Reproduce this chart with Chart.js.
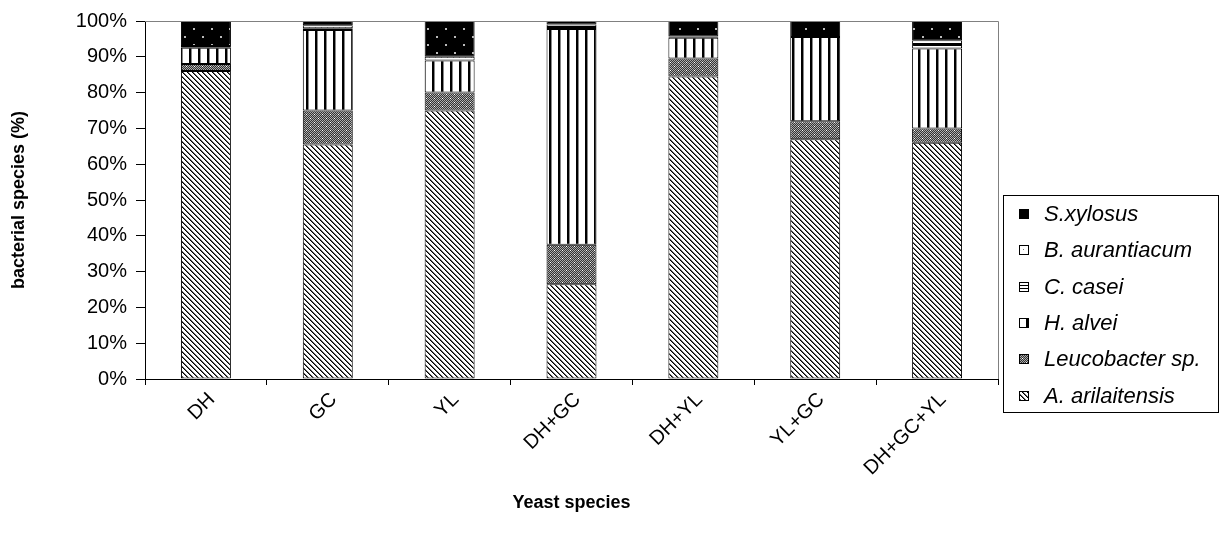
<!DOCTYPE html>
<html>
<head>
<meta charset="utf-8">
<script src="https://cdn.jsdelivr.net/npm/chart.js@4/dist/chart.umd.min.js"></script>
<style>
  html, body { margin: 0; padding: 0; background: #fff; }
  #wrap { width: 1222px; height: 545px; }
</style>
</head>
<body>
<div id="wrap"><canvas id="bacteriaChart"></canvas></div>
<script>
const categories = ['DH', 'GC', 'YL', 'DH+GC', 'DH+YL', 'YL+GC', 'DH+GC+YL'];
const aArilaitensis = [86, 65.5, 75, 26.5, 84.5, 67, 66];
const leucobacter = [2, 9.5, 5, 11, 5, 5, 4];
const hAlvei = [4.5, 22.5, 9, 60.3, 5.8, 23.5, 22.3];
const cCasei = [0, 0.5, 0, 0.5, 0, 0, 1.3];
const bAurantiacum = [0.5, 0.8, 1, 0.7, 0.4, 0, 1];
const sXylosus = [7, 1.2, 10, 1, 4.3, 4.5, 5.4];
const yTicks = [0, 10, 20, 30, 40, 50, 60, 70, 80, 90, 100];

// small tiles turned into canvas patterns, Excel-style black & white fills
function makePattern(w, h, draw) {
    const c = document.createElement('canvas');
    c.width = w;
    c.height = h;
    const g = c.getContext('2d');
    draw(g, w, h);
    return g.createPattern(c, 'repeat');
}

function px(g, x, y, color) {
    g.fillStyle = color;
    g.fillRect(x, y, 1, 1);
}

const diagonalFill = makePattern(5, 5, (g, w, h) => {
    g.fillStyle = '#fff';
    g.fillRect(0, 0, w, h);
    for (let y = 0; y < h; y++) {
        for (let x = 0; x < w; x++) {
            const d = ((x - y) % 5 + 5) % 5;
            if (d === 0) px(g, x, y, '#000');
            if (d === 1) px(g, x, y, '#666');
        }
    }
});

const checkerFill = makePattern(8, 8, (g, w, h) => {
    for (let y = 0; y < h; y++) {
        for (let x = 0; x < w; x++) {
            px(g, x, y, (x + y) % 2 ? '#333' : '#aaa');
        }
    }
    g.fillStyle = '#fff';
    g.fillRect(2, 2, 1, 1);
    g.fillRect(6, 6, 1, 1);
});

const verticalFill = makePattern(9, 1, (g) => {
    g.fillStyle = '#fff';
    g.fillRect(0, 0, 9, 1);
    g.fillStyle = '#000';
    g.fillRect(0, 0, 2, 1);
    g.fillStyle = '#888';
    g.fillRect(2, 0, 1, 1);
});

const horizontalFill = makePattern(1, 3, (g) => {
    g.fillStyle = '#fff';
    g.fillRect(0, 0, 1, 3);
    g.fillStyle = '#000';
    g.fillRect(0, 0, 1, 1);
});

const sparseDotFill = makePattern(6, 6, (g) => {
    g.fillStyle = '#fff';
    g.fillRect(0, 0, 6, 6);
    g.fillStyle = '#777';
    g.fillRect(3, 3, 1, 1);
});

const blackDotFill = makePattern(18, 16, (g) => {
    g.fillStyle = '#000';
    g.fillRect(0, 0, 18, 16);
    g.fillStyle = '#bbb';
    g.fillRect(4, 4, 2, 2);
    g.fillRect(13, 12, 2, 2);
});

const seriesNames = ['A. arilaitensis', 'Leucobacter sp.', 'H. alvei', 'C. casei', 'B. aurantiacum', 'S.xylosus'];
const seriesData = [aArilaitensis, leucobacter, hAlvei, cCasei, bAurantiacum, sXylosus];
const seriesFills = [diagonalFill, checkerFill, verticalFill, horizontalFill, sparseDotFill, blackDotFill];

const FONT = 'Liberation Sans, Arial, sans-serif';

// gray plot-area frame on top and right like the Excel original
const plotFrame = {
    id: 'plotFrame',
    afterDatasetsDraw(chart) {
        const { ctx, chartArea: a } = chart;
        ctx.save();
        ctx.strokeStyle = '#808080';
        ctx.lineWidth = 1;
        ctx.beginPath();
        ctx.moveTo(a.left, a.top + 0.5);
        ctx.lineTo(a.right + 0.5, a.top + 0.5);
        ctx.lineTo(a.right + 0.5, a.bottom);
        ctx.stroke();
        ctx.restore();
    }
};

// boxed legend at the right, top series first
const boxLegend = {
    id: 'boxLegend',
    afterDraw(chart) {
        const ctx = chart.ctx;
        const left = 1003, top = 195, width = 215, height = 217;
        const rowH = 36.3;
        ctx.save();
        ctx.strokeStyle = '#000';
        ctx.lineWidth = 1;
        ctx.strokeRect(left + 0.5, top + 0.5, width, height);
        ctx.font = 'italic 22px ' + FONT;
        ctx.textBaseline = 'middle';
        ctx.fillStyle = '#000';
        const sets = chart.data.datasets.slice().reverse();
        sets.forEach((ds, i) => {
            const cy = top + 19 + i * rowH;
            ctx.fillStyle = ds.backgroundColor;
            ctx.fillRect(left + 16, Math.round(cy - 5), 10, 10);
            ctx.strokeRect(left + 16.5, Math.round(cy - 5) + 0.5, 9, 9);
            ctx.fillStyle = '#000';
            ctx.fillText(ds.label, left + 41, cy + 1);
        });
        ctx.restore();
    }
};

new Chart(document.getElementById('bacteriaChart'), {
    type: 'bar',
    data: {
        labels: categories,
        datasets: seriesNames.map((name, i) => ({
            label: name,
            data: seriesData[i],
            backgroundColor: seriesFills[i],
            borderColor: '#000',
            borderWidth: 1,
            borderSkipped: false,
            barPercentage: 0.41,
            categoryPercentage: 1
        }))
    },
    options: {
        responsive: true,
        maintainAspectRatio: false,
        animation: false,
        layout: { padding: { top: 3, right: 224, bottom: 26, left: 0 } },
        plugins: {
            legend: { display: false },
            tooltip: { enabled: false }
        },
        scales: {
            x: {
                stacked: true,
                border: { display: true, color: '#000', width: 1 },
                grid: { drawOnChartArea: false, drawTicks: true, tickLength: 6, color: '#000', offset: true },
                ticks: {
                    color: '#000',
                    font: { family: FONT, size: 20 },
                    minRotation: 45,
                    maxRotation: 45,
                    labelOffset: 6,
                    padding: 3
                },
                title: {
                    display: true,
                    text: 'Yeast species',
                    color: '#000',
                    font: { family: FONT, size: 18, weight: 'bold' },
                    padding: { top: 0, bottom: 5 }
                },
                afterFit(scale) { scale.height = 140; }
            },
            y: {
                stacked: true,
                min: 0,
                max: 100,
                afterBuildTicks(scale) { scale.ticks = yTicks.map((v) => ({ value: v })); },
                border: { display: true, color: '#000', width: 1 },
                grid: { drawOnChartArea: false, drawTicks: true, tickLength: 9, color: '#000' },
                ticks: {
                    color: '#000',
                    font: { family: FONT, size: 20 },
                    padding: 9,
                    callback: (v) => v + '%'
                },
                title: {
                    display: true,
                    text: 'bacterial species (%)',
                    color: '#000',
                    font: { family: FONT, size: 18, weight: 'bold' },
                    padding: { top: 8, bottom: 6 }
                },
                afterFit(scale) { scale.width = 145; }
            }
        }
    },
    plugins: [plotFrame, boxLegend]
});
</script>
</body>
</html>
